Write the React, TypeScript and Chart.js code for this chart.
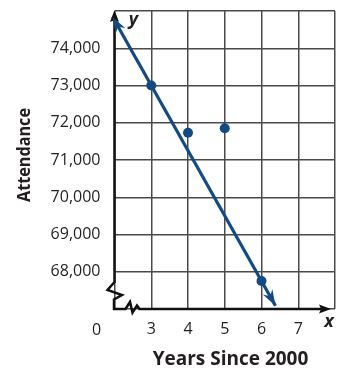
import React, { useEffect, useRef } from 'react';
import { Chart, registerables } from 'chart.js';

Chart.register(...registerables);

// ---- data ----
const years = [3, 4, 5, 6];
const attendance = [73000, 71730, 71850, 67750];
const fitLineX = [1.95, 6.38];
const fitLineY = [74840, 67085];
const xTickLabels = ['3', '4', '5', '6', '7'];
const yTickLabels = ['68,000', '69,000', '70,000', '71,000', '72,000', '73,000', '74,000'];
const X_MIN = 2;
const X_MAX = 8;
const Y_MIN = 67000;
const Y_MAX = 75000;

const NAVY = '#134a85';
const INK = '#231f20';
const GRID = '#4a4a4a';
const TICK_FONT = { family: 'Open Sans', size: 16 };

function barb(ctx: CanvasRenderingContext2D, tip: { x: number; y: number }, from: { x: number; y: number }, len: number, half: number, notch: number) {
  const ang = Math.atan2(tip.y - from.y, tip.x - from.x);
  ctx.save();
  ctx.translate(tip.x, tip.y);
  ctx.rotate(ang);
  ctx.beginPath();
  ctx.moveTo(0, 0);
  ctx.lineTo(-len, -half);
  ctx.lineTo(-notch, 0);
  ctx.lineTo(-len, half);
  ctx.closePath();
  ctx.fill();
  ctx.restore();
}

const decorations = {
  id: 'decorations',
  afterDraw(chart: any) {
    const ctx: CanvasRenderingContext2D = chart.ctx;
    const { left: L, right: R, top: T, bottom: B } = chart.chartArea;
    ctx.save();
    // axes with breaks
    ctx.strokeStyle = '#111';
    ctx.lineWidth = 2.5;
    ctx.lineJoin = 'miter';
    ctx.beginPath();
    ctx.moveTo(L, T + 4);
    ctx.lineTo(L, B - 27);
    ctx.lineTo(L - 7, B - 19);
    ctx.lineTo(L + 7.5, B - 14);
    ctx.lineTo(L - 0.5, B - 9.5);
    ctx.lineTo(L - 0.5, B);
    ctx.lineTo(L + 11, B);
    ctx.lineTo(L + 15.5, B - 7);
    ctx.lineTo(L + 18, B + 3.5);
    ctx.lineTo(L + 22.5, B - 3.5);
    ctx.lineTo(L + 25, B);
    ctx.lineTo(R - 10, B);
    ctx.stroke();
    ctx.fillStyle = '#111';
    // y arrow
    ctx.beginPath();
    ctx.moveTo(L, T - 1);
    ctx.lineTo(L - 4.5, T + 11);
    ctx.lineTo(L, T + 9);
    ctx.lineTo(L + 4.5, T + 11);
    ctx.closePath();
    ctx.fill();
    // x arrow
    ctx.beginPath();
    ctx.moveTo(R - 4, B);
    ctx.lineTo(R - 16, B - 4.5);
    ctx.lineTo(R - 14, B);
    ctx.lineTo(R - 16, B + 4.5);
    ctx.closePath();
    ctx.fill();

    // fit line arrowheads
    const meta = chart.getDatasetMeta(0);
    const p0 = meta.data[0];
    const p1 = meta.data[1];
    ctx.fillStyle = NAVY;
    barb(ctx, { x: p0.x, y: p0.y }, { x: p1.x, y: p1.y }, 16, 5.5, 11);
    barb(ctx, { x: p1.x, y: p1.y }, { x: p0.x, y: p0.y }, 16, 5.5, 11);

    // texts
    ctx.fillStyle = INK;
    ctx.font = '16px "Open Sans"';
    ctx.textAlign = 'center';
    ctx.textBaseline = 'middle';
    ctx.fillText('0', L - 18, B + 21);

    ctx.font = 'italic bold 18px "Open Sans"';
    ctx.textBaseline = 'alphabetic';
    ctx.fillText('y', L + 19, T + 14);
    ctx.fillText('x', R - 6, B + 18);

    ctx.textBaseline = 'middle';
    ctx.font = 'bold 19px "Open Sans"';
    ctx.save();
    ctx.translate(L + 116, B + 51);
    ctx.fillText('Years Since 2000', 0, 0);
    ctx.restore();

    ctx.font = 'bold 18px "Open Sans"';
    ctx.save();
    ctx.translate(25, (T + B) / 2 - 5);
    ctx.rotate(-Math.PI / 2);
    ctx.scale(0.9, 1);
    ctx.fillText('Attendance', 0, 0);
    ctx.restore();

    ctx.restore();
  },
};

export default function App() {
  const ref = useRef<HTMLCanvasElement | null>(null);
  useEffect(() => {
    if (!ref.current) return;
    const chart = new Chart(ref.current, {
      type: 'scatter',
      data: {
        datasets: [
          {
            type: 'line',
            data: fitLineX.map((x, i) => ({ x, y: fitLineY[i] })),
            borderColor: NAVY,
            borderWidth: 3.2,
            pointRadius: 0,
            fill: false,
            clip: false,
            order: 2,
          } as any,
          {
            type: 'scatter',
            data: years.map((x, i) => ({ x, y: attendance[i] })),
            backgroundColor: NAVY,
            borderWidth: 0,
            pointRadius: 5,
            order: 1,
          },
        ],
      },
      options: {
        animation: false,
        responsive: false,
        maintainAspectRatio: false,
        layout: { padding: { top: 11, right: -4, left: 0, bottom: 0 } },
        plugins: { legend: { display: false }, tooltip: { enabled: false } },
        scales: {
          x: {
            type: 'linear',
            min: X_MIN,
            max: X_MAX,
            ticks: {
              stepSize: 1,
              autoSkip: false,
              maxRotation: 0,
              padding: 11,
              font: TICK_FONT,
              color: INK,
              callback: (v: any) => (xTickLabels.includes(String(v)) ? String(v) : ''),
            },
            grid: { color: GRID, lineWidth: 1.5, drawTicks: false },
            border: { display: false },
            afterFit: (s: any) => {
              s.height = 60;
              s.paddingLeft = 0;
              s.paddingRight = 0;
              s.paddingTop = 0;
              s.paddingBottom = 0;
            },
          },
          y: {
            type: 'linear',
            min: Y_MIN,
            max: Y_MAX,
            ticks: {
              stepSize: 1000,
              autoSkip: false,
              padding: 14,
              font: TICK_FONT,
              color: INK,
              callback: (v: any) => {
                const s = Number(v).toLocaleString('en-US');
                return yTickLabels.includes(s) ? s : '';
              },
            },
            grid: { color: GRID, lineWidth: 1.5, drawTicks: false },
            border: { display: false },
            afterFit: (s: any) => {
              s.width = 114.5;
              s.paddingLeft = 0;
              s.paddingRight = 0;
              s.paddingTop = 0;
              s.paddingBottom = 0;
            },
          },
        },
      },
      plugins: [decorations],
    });
    return () => chart.destroy();
  }, []);
  return (
    <div style={{ position: 'absolute', left: 0, top: 0, width: 340, height: 369, background: '#fff' }}>
      <canvas ref={ref} width={340} height={369} style={{ display: 'block' }} />
    </div>
  );
}
